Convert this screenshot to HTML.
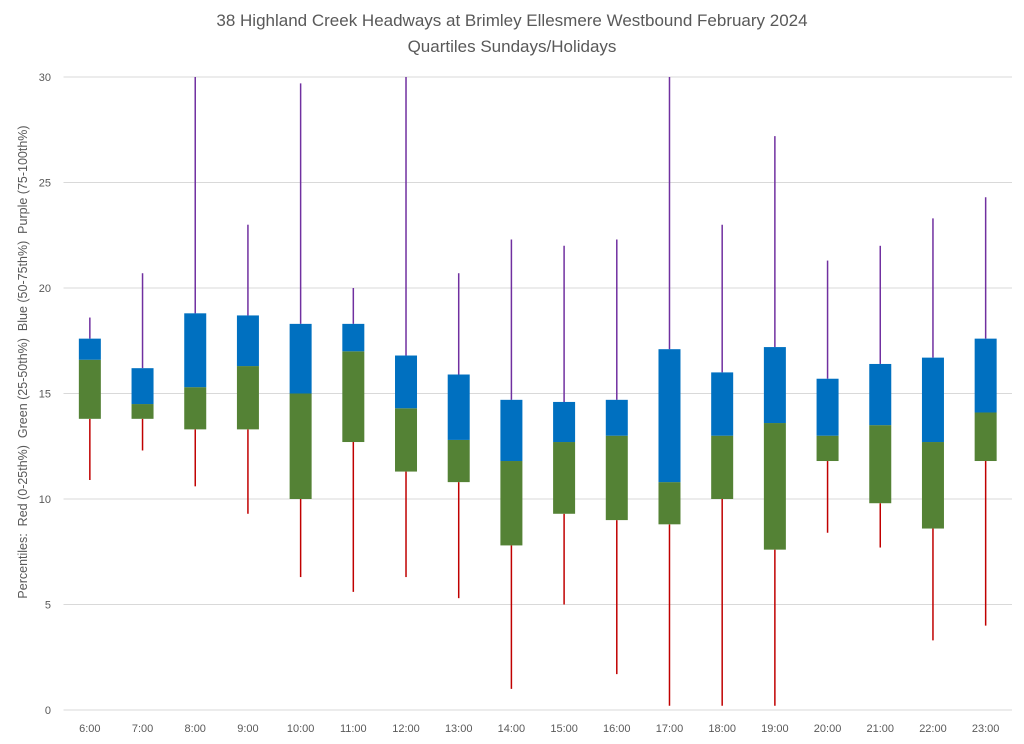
<!DOCTYPE html>
<html><head><meta charset="utf-8"><style>
body{margin:0;background:#fff;}
svg{display:block;font-family:"Liberation Sans",sans-serif;}
</style></head><body>
<svg id="chart" width="1024" height="744" viewBox="0 0 1024 744">
<text x="512" y="26" text-anchor="middle" font-size="17" fill="#595959">38 Highland Creek Headways at Brimley Ellesmere Westbound February 2024</text>
<text x="512" y="52" text-anchor="middle" font-size="17" fill="#595959">Quartiles Sundays/Holidays</text>
<text transform="translate(27,362) rotate(-90)" text-anchor="middle" font-size="12.5" fill="#595959" style="white-space:pre" xml:space="preserve">Percentiles:  Red (0-25th%)  Green (25-50th%)  Blue (50-75th%)  Purple (75-100th%)</text>
<g id="grid"></g><g id="marks"></g><g id="labels"></g>
</svg>
<script>
const categories=["6:00","7:00","8:00","9:00","10:00","11:00","12:00","13:00","14:00","15:00","16:00","17:00","18:00","19:00","20:00","21:00","22:00","23:00"];
const minVals=[10.9,12.3,10.6,9.3,6.3,5.6,6.3,5.3,1.0,5.0,1.7,0.2,0.2,0.2,8.4,7.7,3.3,4.0];
const q1Vals=[13.8,13.8,13.3,13.3,10.0,12.7,11.3,10.8,7.8,9.3,9.0,8.8,10.0,7.6,11.8,9.8,8.6,11.8];
const medianVals=[16.6,14.5,15.3,16.3,15.0,17.0,14.3,12.8,11.8,12.7,13.0,10.8,13.0,13.6,13.0,13.5,12.7,14.1];
const q3Vals=[17.6,16.2,18.8,18.7,18.3,18.3,16.8,15.9,14.7,14.6,14.7,17.1,16.0,17.2,15.7,16.4,16.7,17.6];
const maxVals=[18.6,20.7,30,23.0,29.7,20.0,30,20.7,22.3,22.0,22.3,30,23.0,27.2,21.3,22.0,23.3,24.3];
const yTicks=[0,5,10,15,20,25,30];

const NS="http://www.w3.org/2000/svg";
const L=63.5,R=1012,T=77,B=710,yMax=30;
const band=(R-L)/categories.length;
const x=i=>L+band*(i+0.5);
const y=v=>B-(v/yMax)*(B-T);
function mk(tag,attrs,parent){const e=document.createElementNS(NS,tag);for(const k in attrs)e.setAttribute(k,attrs[k]);parent.appendChild(e);return e;}
const grid=document.getElementById('grid'),marks=document.getElementById('marks'),labels=document.getElementById('labels');
yTicks.forEach(t=>{
  const ln=mk('line',{x1:L,x2:R,y1:y(t),y2:y(t),stroke:'#d9d9d9','stroke-width':1},grid);
  
  
  const tx=mk('text',{x:51,y:y(t)+4,'text-anchor':'end','font-size':11,fill:'#595959'},labels);
  tx.textContent=t;
  
  
});
const bw=22;
categories.forEach((c,i)=>{
  const cx=x(i);
  const lo=mk('line',{x1:cx,x2:cx,y1:y(minVals[i]),y2:y(q1Vals[i]),stroke:'#C00000','stroke-width':1.5},marks);
  
  
  const hi=mk('line',{x1:cx,x2:cx,y1:y(q3Vals[i]),y2:y(maxVals[i]),stroke:'#7030A0','stroke-width':1.5},marks);
  
  
  const g=mk('rect',{x:cx-bw/2,y:y(medianVals[i]),width:bw,height:y(q1Vals[i])-y(medianVals[i]),fill:'#548235'},marks);
  
  
  const b=mk('rect',{x:cx-bw/2,y:y(q3Vals[i]),width:bw,height:y(medianVals[i])-y(q3Vals[i]),fill:'#0070C0'},marks);
  
  
  const tx=mk('text',{x:cx,y:732,'text-anchor':'middle','font-size':11,fill:'#595959'},labels);
  tx.textContent=c;
  
  
});
</script>
</body></html>
